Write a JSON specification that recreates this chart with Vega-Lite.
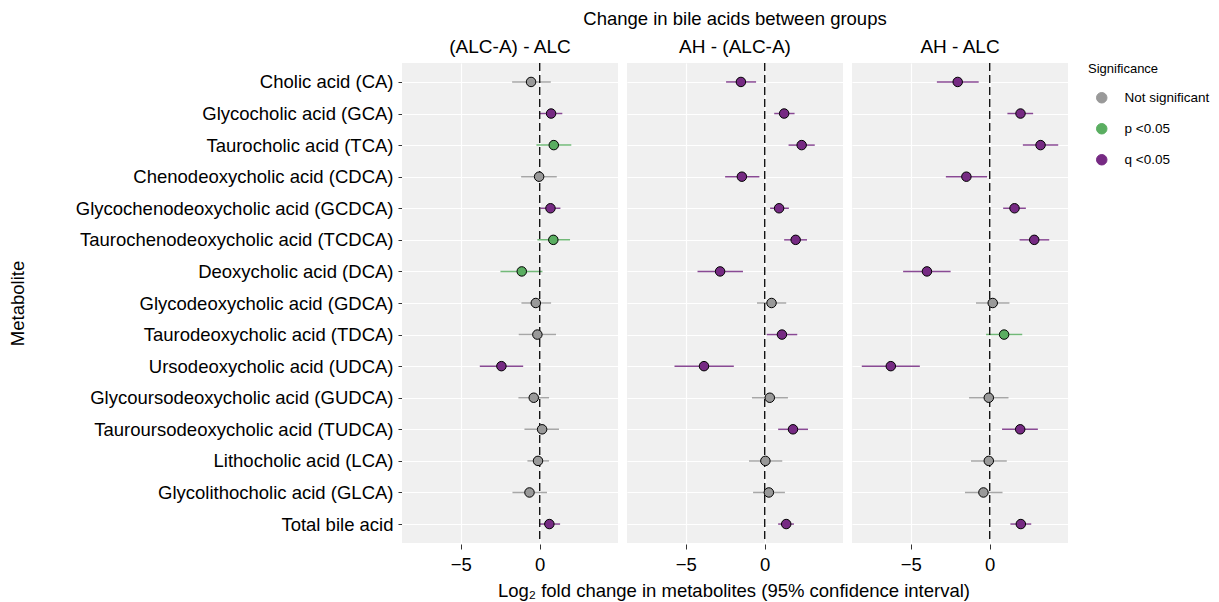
{
  "$schema": "https://vega.github.io/schema/vega-lite/v6.json",
  "padding": {"left": 8, "top": 9, "right": 5, "bottom": 5},
  "background": "white",
  "title": {"text": "Log₂ fold change in metabolites (95% confidence interval)", "orient": "bottom", "anchor": "middle", "fontSize": 18.5, "fontWeight": "normal", "color": "black", "offset": 8, "dx": 125},
  "data": {"values": [
    {"cmp": "(ALC-A) - ALC", "met": "Cholic acid (CA)", "est": -0.55, "lo": -1.75, "hi": 0.70, "sig": "Not significant"},
    {"cmp": "(ALC-A) - ALC", "met": "Glycocholic acid (GCA)", "est": 0.72, "lo": 0.0, "hi": 1.43, "sig": "q <0.05"},
    {"cmp": "(ALC-A) - ALC", "met": "Taurocholic acid (TCA)", "est": 0.89, "lo": -0.21, "hi": 2.0, "sig": "p <0.05"},
    {"cmp": "(ALC-A) - ALC", "met": "Chenodeoxycholic acid (CDCA)", "est": -0.04, "lo": -1.18, "hi": 1.08, "sig": "Not significant"},
    {"cmp": "(ALC-A) - ALC", "met": "Glycochenodeoxycholic acid (GCDCA)", "est": 0.68, "lo": 0.04, "hi": 1.31, "sig": "q <0.05"},
    {"cmp": "(ALC-A) - ALC", "met": "Taurochenodeoxycholic acid (TCDCA)", "est": 0.86, "lo": -0.15, "hi": 1.92, "sig": "p <0.05"},
    {"cmp": "(ALC-A) - ALC", "met": "Deoxycholic acid (DCA)", "est": -1.14, "lo": -2.49, "hi": 0.17, "sig": "p <0.05"},
    {"cmp": "(ALC-A) - ALC", "met": "Glycodeoxycholic acid (GDCA)", "est": -0.25, "lo": -1.16, "hi": 0.72, "sig": "Not significant"},
    {"cmp": "(ALC-A) - ALC", "met": "Taurodeoxycholic acid (TDCA)", "est": -0.15, "lo": -1.33, "hi": 1.03, "sig": "Not significant"},
    {"cmp": "(ALC-A) - ALC", "met": "Ursodeoxycholic acid (UDCA)", "est": -2.43, "lo": -3.80, "hi": -1.05, "sig": "q <0.05"},
    {"cmp": "(ALC-A) - ALC", "met": "Glycoursodeoxycholic acid (GUDCA)", "est": -0.38, "lo": -1.35, "hi": 0.59, "sig": "Not significant"},
    {"cmp": "(ALC-A) - ALC", "met": "Tauroursodeoxycholic acid (TUDCA)", "est": 0.15, "lo": -0.97, "hi": 1.22, "sig": "Not significant"},
    {"cmp": "(ALC-A) - ALC", "met": "Lithocholic acid (LCA)", "est": -0.11, "lo": -0.78, "hi": 0.59, "sig": "Not significant"},
    {"cmp": "(ALC-A) - ALC", "met": "Glycolithocholic acid (GLCA)", "est": -0.65, "lo": -1.73, "hi": 0.46, "sig": "Not significant"},
    {"cmp": "(ALC-A) - ALC", "met": "Total bile acid", "est": 0.61, "lo": -0.02, "hi": 1.29, "sig": "q <0.05"},
    {"cmp": "AH - (ALC-A)", "met": "Cholic acid (CA)", "est": -1.51, "lo": -2.45, "hi": -0.55, "sig": "q <0.05"},
    {"cmp": "AH - (ALC-A)", "met": "Glycocholic acid (GCA)", "est": 1.23, "lo": 0.60, "hi": 1.89, "sig": "q <0.05"},
    {"cmp": "AH - (ALC-A)", "met": "Taurocholic acid (TCA)", "est": 2.34, "lo": 1.51, "hi": 3.17, "sig": "q <0.05"},
    {"cmp": "AH - (ALC-A)", "met": "Chenodeoxycholic acid (CDCA)", "est": -1.45, "lo": -2.51, "hi": -0.34, "sig": "q <0.05"},
    {"cmp": "AH - (ALC-A)", "met": "Glycochenodeoxycholic acid (GCDCA)", "est": 0.91, "lo": 0.34, "hi": 1.53, "sig": "q <0.05"},
    {"cmp": "AH - (ALC-A)", "met": "Taurochenodeoxycholic acid (TCDCA)", "est": 1.96, "lo": 1.23, "hi": 2.68, "sig": "q <0.05"},
    {"cmp": "AH - (ALC-A)", "met": "Deoxycholic acid (DCA)", "est": -2.83, "lo": -4.26, "hi": -1.38, "sig": "q <0.05"},
    {"cmp": "AH - (ALC-A)", "met": "Glycodeoxycholic acid (GDCA)", "est": 0.43, "lo": -0.49, "hi": 1.36, "sig": "Not significant"},
    {"cmp": "AH - (ALC-A)", "met": "Taurodeoxycholic acid (TDCA)", "est": 1.09, "lo": 0.13, "hi": 2.06, "sig": "q <0.05"},
    {"cmp": "AH - (ALC-A)", "met": "Ursodeoxycholic acid (UDCA)", "est": -3.85, "lo": -5.72, "hi": -1.96, "sig": "q <0.05"},
    {"cmp": "AH - (ALC-A)", "met": "Glycoursodeoxycholic acid (GUDCA)", "est": 0.32, "lo": -0.81, "hi": 1.47, "sig": "Not significant"},
    {"cmp": "AH - (ALC-A)", "met": "Tauroursodeoxycholic acid (TUDCA)", "est": 1.79, "lo": 0.85, "hi": 2.74, "sig": "q <0.05"},
    {"cmp": "AH - (ALC-A)", "met": "Lithocholic acid (LCA)", "est": 0.04, "lo": -1.0, "hi": 1.11, "sig": "Not significant"},
    {"cmp": "AH - (ALC-A)", "met": "Glycolithocholic acid (GLCA)", "est": 0.26, "lo": -0.74, "hi": 1.28, "sig": "Not significant"},
    {"cmp": "AH - (ALC-A)", "met": "Total bile acid", "est": 1.36, "lo": 0.85, "hi": 1.85, "sig": "q <0.05"},
    {"cmp": "AH - ALC", "met": "Cholic acid (CA)", "est": -2.03, "lo": -3.35, "hi": -0.70, "sig": "q <0.05"},
    {"cmp": "AH - ALC", "met": "Glycocholic acid (GCA)", "est": 1.95, "lo": 1.12, "hi": 2.75, "sig": "q <0.05"},
    {"cmp": "AH - ALC", "met": "Taurocholic acid (TCA)", "est": 3.22, "lo": 2.10, "hi": 4.34, "sig": "q <0.05"},
    {"cmp": "AH - ALC", "met": "Chenodeoxycholic acid (CDCA)", "est": -1.48, "lo": -2.78, "hi": -0.17, "sig": "q <0.05"},
    {"cmp": "AH - ALC", "met": "Glycochenodeoxycholic acid (GCDCA)", "est": 1.57, "lo": 0.85, "hi": 2.29, "sig": "q <0.05"},
    {"cmp": "AH - ALC", "met": "Taurochenodeoxycholic acid (TCDCA)", "est": 2.82, "lo": 1.89, "hi": 3.77, "sig": "q <0.05"},
    {"cmp": "AH - ALC", "met": "Deoxycholic acid (DCA)", "est": -3.98, "lo": -5.49, "hi": -2.48, "sig": "q <0.05"},
    {"cmp": "AH - ALC", "met": "Glycodeoxycholic acid (GDCA)", "est": 0.19, "lo": -0.87, "hi": 1.25, "sig": "Not significant"},
    {"cmp": "AH - ALC", "met": "Taurodeoxycholic acid (TDCA)", "est": 0.91, "lo": -0.23, "hi": 2.06, "sig": "p <0.05"},
    {"cmp": "AH - ALC", "met": "Ursodeoxycholic acid (UDCA)", "est": -6.27, "lo": -8.11, "hi": -4.43, "sig": "q <0.05"},
    {"cmp": "AH - ALC", "met": "Glycoursodeoxycholic acid (GUDCA)", "est": -0.06, "lo": -1.31, "hi": 1.19, "sig": "Not significant"},
    {"cmp": "AH - ALC", "met": "Tauroursodeoxycholic acid (TUDCA)", "est": 1.93, "lo": 0.78, "hi": 3.05, "sig": "q <0.05"},
    {"cmp": "AH - ALC", "met": "Lithocholic acid (LCA)", "est": -0.06, "lo": -1.19, "hi": 1.08, "sig": "Not significant"},
    {"cmp": "AH - ALC", "met": "Glycolithocholic acid (GLCA)", "est": -0.40, "lo": -1.57, "hi": 0.81, "sig": "Not significant"},
    {"cmp": "AH - ALC", "met": "Total bile acid", "est": 1.97, "lo": 1.31, "hi": 2.63, "sig": "q <0.05"}
  ]},
  "facet": {
    "column": {
      "field": "cmp", "type": "nominal",
      "sort": ["(ALC-A) - ALC", "AH - (ALC-A)", "AH - ALC"],
      "title": "Change in bile acids between groups",
      "header": {"labelFontSize": 19, "titleFontSize": 18.5, "titleFontWeight": "normal", "labelPadding": 5, "titlePadding": 0, "labelColor": "black", "titleColor": "black"}
    }
  },
  "spacing": 9,
  "spec": {
    "width": 216,
    "height": 480,
    "encoding": {
      "y": {
        "field": "met", "type": "nominal",
        "sort": ["Cholic acid (CA)", "Glycocholic acid (GCA)", "Taurocholic acid (TCA)", "Chenodeoxycholic acid (CDCA)", "Glycochenodeoxycholic acid (GCDCA)", "Taurochenodeoxycholic acid (TCDCA)", "Deoxycholic acid (DCA)", "Glycodeoxycholic acid (GDCA)", "Taurodeoxycholic acid (TDCA)", "Ursodeoxycholic acid (UDCA)", "Glycoursodeoxycholic acid (GUDCA)", "Tauroursodeoxycholic acid (TUDCA)", "Lithocholic acid (LCA)", "Glycolithocholic acid (GLCA)", "Total bile acid"],
        "scale": {"type": "point", "padding": 0.6},
        "axis": {"title": "Metabolite", "titleFontSize": 18.5, "labelFontSize": 18.5, "labelLimit": 400, "titleX": -375, "titleY": 240, "titleAngle": -90, "titleAlign": "center", "titleBaseline": "bottom", "labelPadding": 5, "tickSize": 4, "grid": true}
      },
      "color": {"field": "sig", "type": "nominal",
        "scale": {"domain": ["Not significant", "p <0.05", "q <0.05"], "range": ["#999999", "#5aae61", "#762a83"]},
        "legend": {"title": "Significance", "titleFontSize": 13, "titleFontWeight": "normal", "labelFontSize": 13.5, "symbolType": "circle", "symbolSize": 110, "symbolStrokeColor": "black", "symbolStrokeWidth": 1, "symbolOpacity": 1, "symbolOffset": 7, "labelOffset": 16, "rowPadding": 16, "offset": 20, "titlePadding": 15}}
    },
    "layer": [
      {
        "mark": {"type": "rule", "strokeWidth": 1.5, "opacity": 0.85},
        "encoding": {
          "x": {"field": "lo", "type": "quantitative"},
          "x2": {"field": "hi"}
        }
      },
      {
        "transform": [{"aggregate": [{"op": "count", "as": "n"}], "groupby": ["cmp"]}],
        "mark": {"type": "rule", "color": "black", "strokeWidth": 1.3, "strokeDash": [8, 4]},
        "encoding": {"x": {"datum": 0}, "y": null, "color": null}
      },
      {
        "mark": {"type": "point", "filled": true, "stroke": "black", "strokeWidth": 1, "size": 90, "opacity": 1, "shape": "circle"},
        "encoding": {
          "x": {"field": "est", "type": "quantitative",
            "scale": {"domain": [-8.73, 4.96], "nice": false, "zero": false},
            "axis": {"title": null, "values": [-5, 0], "labelFontSize": 18.5, "labelPadding": 6, "tickSize": 5, "grid": true}}
        }
      }
    ]
  },
  "resolve": {"scale": {"x": "shared"}},
  "config": {
    "font": "Liberation Sans",
    "view": {"fill": "#F0F0F0", "stroke": null},
    "axis": {"domain": false, "tickColor": "#333333", "labelColor": "black", "titleColor": "black", "titleFontWeight": "normal", "gridColor": "white", "gridWidth": 1.2, "gridOpacity": 1},
    "legend": {"labelColor": "black", "titleColor": "black"}
  }
}
